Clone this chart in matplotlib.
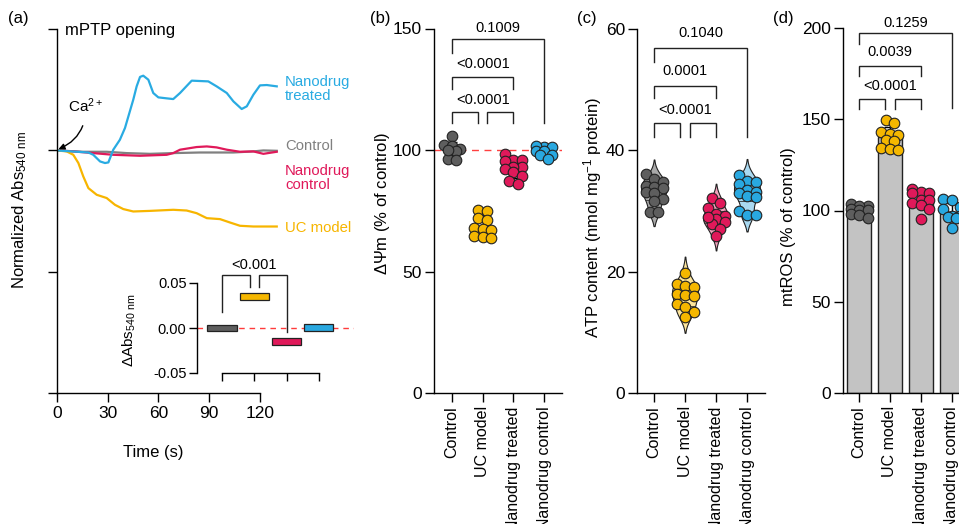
import numpy as np
import matplotlib.pyplot as plt

plt.rcParams['font.family'] = ['Liberation Sans', 'DejaVu Sans']
plt.rcParams['mathtext.default'] = 'regular'
plt.rcParams['axes.linewidth'] = 1.0
plt.rcParams['xtick.major.size'] = 6.5
plt.rcParams['ytick.major.size'] = 6.5
plt.rcParams['xtick.major.width'] = 1.0
plt.rcParams['ytick.major.width'] = 1.0

W, H = 959, 524

groups = ["Control", "UC model", "Nanodrug treated", "Nanodrug control"]

# (a) mPTP opening traces (normalized Abs540)
t_control = [0, 15.7, 29.5, 41.3, 55.1, 68.8, 84.6, 104.3, 116.1, 122.0, 129.9]
abs_control = [0, -0.011, -0.011, -0.022, -0.028, -0.022, -0.017, -0.017, -0.008, 0.0, -0.003]

t_uc = [0, 5.9, 9.8, 12.8, 15.7, 18.7, 23.6, 29.5, 34.4, 39.3, 45.2, 55.1, 68.8,
        76.7, 82.6, 88.6, 96.4, 102.3, 108.2, 116.1, 129.9]
abs_uc = [0, -0.008, -0.036, -0.104, -0.215, -0.311, -0.366, -0.393, -0.449, -0.484,
          -0.504, -0.499, -0.490, -0.496, -0.518, -0.559, -0.567, -0.595, -0.622, -0.628, -0.628]

t_nd_treated = [0, 18.7, 21.6, 25.6, 28.5, 30.5, 33.4, 37.3, 40.3, 45.2, 47.2, 49.2, 51.1,
                54.1, 57.0, 60.0, 64.9, 68.8, 72.8, 79.7, 84.6, 89.5, 94.4, 100.4,
                104.3, 109.2, 112.2, 116.1, 120.0, 124.0, 129.9]
abs_nd_treated = [0, -0.017, -0.036, -0.091, -0.104, -0.099, 0.006, 0.088, 0.185, 0.419,
                  0.529, 0.607, 0.617, 0.584, 0.474, 0.438, 0.430, 0.424, 0.474, 0.576,
                  0.573, 0.570, 0.529, 0.474, 0.405, 0.342, 0.364, 0.460, 0.537, 0.540, 0.529]

t_nd_control = [0, 9.8, 21.6, 33.4, 49.2, 64.9, 68.8, 72.8, 82.6, 88.6, 94.4, 100.4,
                108.2, 116.1, 122.0, 129.9]
abs_nd_control = [0, -0.008, -0.022, -0.036, -0.044, -0.036, -0.022, 0.006, 0.028, 0.033,
                  0.025, 0.006, -0.011, -0.008, -0.028, -0.011]

# (a) inset: delta Abs540 floating bars (min/max)
inset_low = [-0.003, 0.031, -0.019, -0.003]
inset_high = [0.003, 0.039, -0.011, 0.004]

# (b) mitochondrial membrane potential (% of control)
dpsi_control = [105.6, 102.0, 101.6, 100.3, 99.6, 96.1, 95.9, 100.0]
dpsi_uc = [75.4, 75.0, 72.0, 71.2, 68.0, 67.4, 67.0, 64.8, 64.2, 63.8]
dpsi_nd_treated = [98.5, 95.8, 95.5, 95.8, 93.0, 93.2, 92.0, 91.0, 89.2, 87.2, 86.2]
dpsi_nd_control = [101.3, 101.5, 101.3, 99.7, 99.5, 98.0, 97.8, 96.4]

# (c) ATP content (nmol/mg protein)
atp_control = [36.1, 35.2, 34.8, 34.1, 34.0, 33.8, 33.1, 33.0, 31.9, 31.7, 29.9, 29.9]
atp_uc = [19.8, 17.9, 17.6, 17.4, 16.4, 16.2, 16.0, 14.6, 14.2, 13.3, 12.6]
atp_nd_treated = [32.2, 31.3, 30.5, 29.5, 29.2, 28.7, 28.2, 27.8, 27.0, 25.8, 29.0]
atp_nd_control = [35.9, 34.9, 34.7, 34.5, 33.4, 33.2, 33.0, 32.5, 32.3, 30.0, 29.4, 29.3]

# (d) mtROS (% of control)
ros_control = [103.5, 102.5, 102.6, 100.8, 100.5, 100.2, 98.2, 97.5, 95.7]
ros_uc = [149.6, 148.1, 142.8, 142.0, 141.5, 138.5, 138.0, 134.0, 133.5, 133.0]
ros_nd_treated = [111.6, 110.0, 109.8, 109.5, 105.7, 105.5, 104.2, 103.0, 100.6, 95.2]
ros_nd_control = [106.1, 105.5, 102.1, 101.0, 97.0, 96.8, 96.5, 96.0, 90.2]

p_dpsi = ["0.1009", "<0.0001", "<0.0001"]
p_atp = ["0.1040", "0.0001", "<0.0001"]
p_ros = ["0.1259", "0.0039", "<0.0001"]

dot_colors = ['#5e5e5e', '#f5b700', '#e0195a', '#29a8e0']
violin_colors = ['#a9a9a9', '#fde59c', '#f2a3bd', '#a9d9f1']
trace_colors = {'treated': '#29abe2', 'control': '#808080', 'ndcontrol': '#e0195a', 'uc': '#f7b500'}


def rect(x0, ytop, x1, ybot):
    return [x0 / W, 1 - ybot / H, (x1 - x0) / W, (ybot - ytop) / H]


def fx(x):
    return x / W


def fy(y):
    return 1 - y / H


def scatter_rows(values, sx, sy, binpx=8.0, step=8.5, maxrow=3):
    # GraphPad-like spread: points grouped into rows (max 3), side by side within a row
    v = np.asarray(values, float)
    rows = []
    for i in np.argsort(-v):
        if rows and len(rows[-1]) < maxrow and (v[rows[-1][0]] - v[i]) * sy < binpx:
            rows[-1].append(i)
        else:
            rows.append([i])
    offs = np.zeros(len(v))
    for r in rows:
        n = len(r)
        for j, i in enumerate(r):
            offs[i] = (j - (n - 1) / 2) * step / sx
    return offs


def bracket(ax, x1, x2, y, l1, l2):
    ax.plot([x1, x1, x2, x2], [l1, y, y, l2], color='#222222', lw=1.0, clip_on=False,
            solid_joinstyle='miter')


def cat_axes(r, xlim, ylim, yticks):
    ax = fig.add_axes(r)
    ax.set_xlim(xlim)
    ax.set_ylim(ylim)
    ax.spines[['top', 'right']].set_visible(False)
    ax.set_yticks(yticks)
    ax.set_xticks(range(1, 5))
    ax.set_xticklabels(groups, rotation=90, fontsize=11.5)
    ax.tick_params(axis='y', labelsize=12.5, pad=2)
    ax.tick_params(axis='x', pad=3)
    return ax


def brackets(ax, pvals, top, mid, low):
    # top: Control vs Nanodrug control, mid: Control vs Nanodrug treated, low: pairwise around UC model
    bracket(ax, 1, 4, top[0], top[1], top[2])
    ax.text(2.5, top[3], pvals[0], ha='center', va='center', fontsize=10.5)
    bracket(ax, 1, 3, mid[0], mid[1], mid[1])
    ax.text(2, mid[2], pvals[1], ha='center', va='center', fontsize=10.5)
    bracket(ax, 1, 1.85, low[0], low[1], low[1])
    bracket(ax, 2.15, 3, low[0], low[1], low[1])
    ax.text(2, low[2], pvals[2], ha='center', va='center', fontsize=10.5)


fig = plt.figure(figsize=(W / 100, H / 100), dpi=100)

# ---------------- (a) ----------------
ax = fig.add_axes(rect(56.7, 29.3, 56.7 + 135 * 1.694, 392.7))
ax.set_xlim(0, 135)
ax.set_ylim(-2, 1)
ax.spines[['top', 'right']].set_visible(False)
ax.spines['bottom'].set_bounds(0, 120)
ax.set_xticks([0, 30, 60, 90, 120])
ax.set_yticks([-2, -1, 0, 1])
ax.set_yticklabels([])
ax.tick_params(axis='x', labelsize=12.5, pad=3)
ax.plot(t_control, abs_control, color=trace_colors['control'], lw=1.6)
ax.plot(t_nd_control, abs_nd_control, color=trace_colors['ndcontrol'], lw=1.6)
ax.plot(t_uc, abs_uc, color=trace_colors['uc'], lw=1.6)
ax.plot(t_nd_treated, abs_nd_treated, color=trace_colors['treated'], lw=1.6)
ax.annotate('Ca$^{2+}$', xy=(1.0, 0.01), xytext=(17, 0.37), fontsize=11,
            ha='center', va='center',
            arrowprops=dict(arrowstyle='-|>', color='black', lw=1.0,
                            connectionstyle='arc3,rad=-0.35', shrinkA=6, shrinkB=0,
                            mutation_scale=9))

fig.text(fx(65), fy(31), 'mPTP opening', fontsize=12, va='center', ha='left')
fig.text(fx(285), fy(89), 'Nanodrug\ntreated', color=trace_colors['treated'], fontsize=10.7,
         va='center', ha='left', linespacing=1.05)
fig.text(fx(285), fy(146), 'Control', color=trace_colors['control'], fontsize=10.7,
         va='center', ha='left')
fig.text(fx(285), fy(178), 'Nanodrug\ncontrol', color=trace_colors['ndcontrol'], fontsize=10.7,
         va='center', ha='left', linespacing=1.05)
fig.text(fx(285), fy(228), 'UC model', color=trace_colors['uc'], fontsize=10.7,
         va='center', ha='left')
fig.text(fx(20), fy(210), 'Normalized Abs$_{540\\ nm}$', rotation=90, fontsize=12,
         ha='center', va='center')
fig.text(fx(153), fy(452), 'Time (s)', fontsize=12, ha='center', va='center')

# inset
axi = fig.add_axes(rect(197, 283, 197 + (5.1 - 0.226) * 32.3, 373))
axi.set_xlim(0.226, 5.1)
axi.set_ylim(-0.05, 0.05)
axi.patch.set_alpha(0)
axi.spines[['top', 'right']].set_visible(False)
axi.spines['bottom'].set_bounds(1, 4)
axi.set_xticks(range(1, 5))
axi.set_xticklabels([])
axi.set_yticks([-0.05, 0.0, 0.05])
axi.set_yticklabels(['-0.05', '0.00', '0.05'])
axi.tick_params(axis='y', labelsize=10.5, pad=2, length=5.5)
axi.tick_params(axis='x', length=6)
axi.axhline(0, color='#ff3b3b', lw=1.0, ls=(0, (4, 3.5)), zorder=1)
lo = np.array(inset_low)
hi = np.array(inset_high)
axi.bar(range(1, 5), hi - lo, bottom=lo, width=0.9, color=dot_colors, edgecolor='#222222',
        lw=0.9, zorder=3)
bracket(axi, 1, 1.87, 0.0589, 0.0178, 0.0456)
bracket(axi, 2.15, 3, 0.0589, 0.0456, -0.0044)
axi.text(2.0, 0.0705, '<0.001', ha='center', va='center', fontsize=10.5)
fig.text(fx(129), fy(330), '$\\Delta$Abs$_{540\\ nm}$', rotation=90, fontsize=11,
         ha='center', va='center')

# ---------------- (b) ----------------
axb = cat_axes(rect(433.6, 28.5, 562.4, 393), (0.4, 4.6), (0, 150), [0, 50, 100, 150])
axb.axhline(100, color='#ff4040', lw=1.0, ls=(0, (5, 4)), zorder=1)
sx_b, sy_b = 30.67, 365 / 150
for i, vals in enumerate([dpsi_control, dpsi_uc, dpsi_nd_treated, dpsi_nd_control]):
    off = scatter_rows(vals, sx_b, sy_b)
    m, s = np.mean(vals), np.std(vals, ddof=1)
    axb.errorbar(i + 1, m, yerr=s, color='black', lw=1.0, capsize=3.5, capthick=1.0, zorder=2)
    axb.plot([i + 1 - 0.22, i + 1 + 0.22], [m, m], color='black', lw=1.0, zorder=2)
    axb.scatter(i + 1 + off, vals, s=58, color=dot_colors[i], edgecolor='#222222',
                linewidth=0.8, zorder=3, clip_on=False)
brackets(axb, p_dpsi, (145.5, 140, 111, 150.2), (130, 125, 135.2), (115.6, 111, 120.6))
fig.text(fx(383), fy(203), '$\\Delta\\Psi$m (% of control)', rotation=90, fontsize=12,
         ha='center', va='center')

# ---------------- (c) ----------------
axc = cat_axes(rect(637, 29, 765, 393), (0.45, 4.58), (0, 60), [0, 20, 40, 60])
sx_c, sy_c = 31.0, 364 / 60
for i, vals in enumerate([atp_control, atp_uc, atp_nd_treated, atp_nd_control]):
    v = np.asarray(vals, float)
    bw = v.std(ddof=1) * len(v) ** (-0.2)
    grid = np.linspace(v.min() - 2 * bw, v.max() + 2 * bw, 200)
    dens = np.exp(-0.5 * ((grid[:, None] - v[None, :]) / bw) ** 2).sum(axis=1)
    half = dens / dens.max() * 0.42
    axc.fill_betweenx(grid, i + 1 - half, i + 1 + half, color=violin_colors[i],
                      edgecolor='#222222', lw=0.8, zorder=2)
    for q in np.percentile(v, [25, 50, 75]):
        hw = np.interp(q, grid, half)
        axc.plot([i + 1 - hw, i + 1 + hw], [q, q], color='#333333', lw=0.6, zorder=2)
    off = scatter_rows(vals, sx_c, sy_c)
    axc.scatter(i + 1 + off, vals, s=58, color=dot_colors[i], edgecolor='#222222',
                linewidth=0.8, zorder=3)
brackets(axc, p_atp, (56.8, 54.5, 42.2, 59.3), (50.6, 48.6, 53.0), (44.5, 42.2, 46.7))
fig.text(fx(593), fy(217), 'ATP content (nmol mg$^{-1}$ protein)', rotation=90, fontsize=12,
         ha='center', va='center')

# ---------------- (d) ----------------
axd = cat_axes(rect(842.9, 28, 969, 393), (0.48, 4.55), (0, 200), [0, 50, 100, 150, 200])
sx_d, sy_d = 31.0, 365 / 200
for i, vals in enumerate([ros_control, ros_uc, ros_nd_treated, ros_nd_control]):
    m, s = np.mean(vals), np.std(vals, ddof=1)
    axd.bar(i + 1, m, width=0.8, color='#c3c3c3', edgecolor='#222222', lw=1.0, zorder=1)
    axd.errorbar(i + 1, m, yerr=[[0], [s]], color='black', lw=1.0, capsize=4, capthick=1.0,
                 zorder=2)
    off = scatter_rows(vals, sx_d, sy_d)
    axd.scatter(i + 1 + off, vals, s=58, color=dot_colors[i], edgecolor='#222222',
                linewidth=0.8, zorder=3)
brackets(axd, p_ros, (197, 191.5, 156, 203), (179, 173.6, 187), (161, 155.6, 168))
fig.text(fx(789), fy(227), 'mtROS (% of control)', rotation=90, fontsize=12,
         ha='center', va='center')

# panel letters
for lab, x in [('(a)', 8), ('(b)', 370), ('(c)', 577), ('(d)', 773)]:
    fig.text(fx(x), fy(19), lab, fontsize=12, ha='left', va='center')

fig.savefig('out.png', dpi=100)
